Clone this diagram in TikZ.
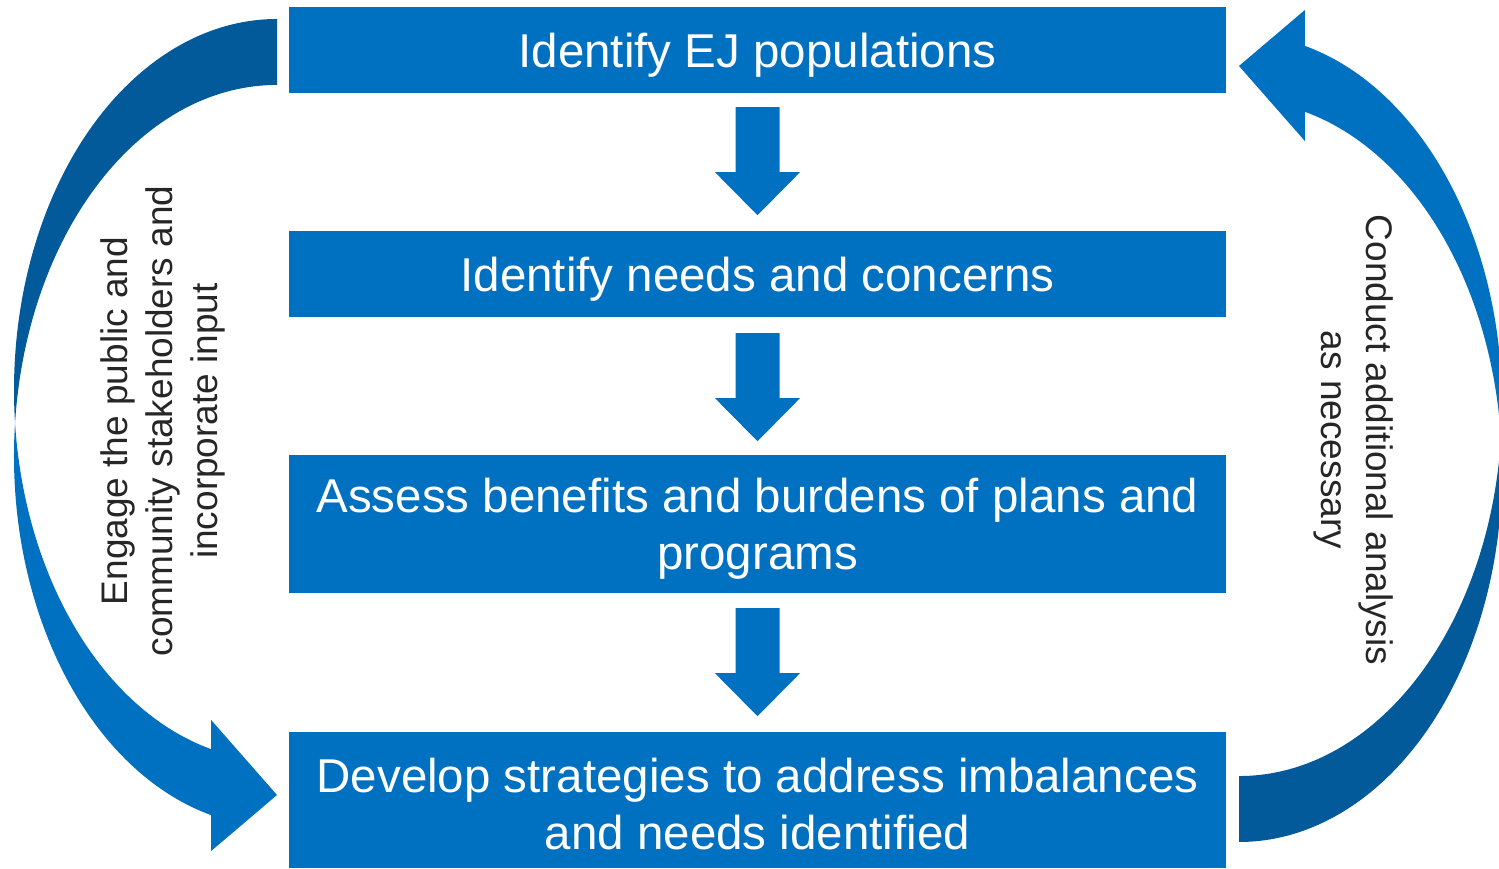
\documentclass[tikz,border=0pt]{standalone}
\usepackage{fontspec}
\setmainfont{Liberation Sans}
\usetikzlibrary{calc}
\definecolor{boxblue}{RGB}{0,112,192}
\definecolor{darkblue}{RGB}{3,90,154}
\definecolor{textgray}{RGB}{38,38,38}
\begin{document}
\begin{tikzpicture}[x=1pt,y=1pt,
  box/.style={fill=boxblue, minimum width=937pt, inner sep=0pt},
  boxtext/.style={text=white, inner sep=0pt, align=center, yshift=-5pt,
    font=\fontsize{47.5}{57}\selectfont},
  sidetext/.style={text=textgray, align=center, inner sep=0pt, font=\fontsize{37}{45}\selectfont},
  downarrow/.pic={\fill[boxblue] (-22,0) -- (22,0) -- (22,-65) -- (42.5,-65) -- (0,-108) -- (-42.5,-65) -- (-22,-65) -- cycle;}
]
\useasboundingbox (0,0) rectangle (1499,868);

% boxes
\node[box, minimum height=86pt, label={[boxtext]center:Identify EJ populations}] (b1) at (757.5,818) {};
\node[box, minimum height=86pt, label={[boxtext]center:Identify needs and concerns}] (b2) at (757.5,594) {};
\node[box, minimum height=138pt, label={[boxtext]center:{Assess benefits and burdens of plans and\\programs}}] (b3) at (757.5,344) {};
\node[box, minimum height=136pt, label={[boxtext, yshift=1pt]center:{Develop strategies to address imbalances\\and needs identified}}] (b4) at (757.5,68) {};

% down arrows
\pic at ($(b1.south)+(0,-14)$) {downarrow};
\pic at ($(b2.south)+(0,-16)$) {downarrow};
\pic at ($(b3.south)+(0,-15)$) {downarrow};

% left curved arrow
\coordinate (ltail) at (277,849);
\coordinate (lcross) at (15.04,445.02);
\fill[darkblue] (ltail) arc[start angle=90, end angle=185.1, x radius=263, y radius=371]
  arc[start angle=174.9, end angle=90, x radius=263, y radius=371] -- cycle;
\fill[boxblue] (lcross) arc[start angle=174.9, end angle=255.5, x radius=263, y radius=371]
  -- (211.15,17) -- (277,73) -- (211.15,148) -- (211.15,118.8)
  arc[start angle=255.5, end angle=185.1, x radius=263, y radius=371] -- cycle;

% right curved arrow (the left one turned half round)
\begin{scope}[rotate around={180:(758,437.5)}]
\coordinate (rtail) at (277,849);
\coordinate (rcross) at (15.04,445.02);
\fill[darkblue] (rtail) arc[start angle=90, end angle=185.1, x radius=263, y radius=371]
  arc[start angle=174.9, end angle=90, x radius=263, y radius=371] -- cycle;
\fill[boxblue] (rcross) arc[start angle=174.9, end angle=255.5, x radius=263, y radius=371]
  -- (211.15,17) -- (277,73) -- (211.15,148) -- (211.15,118.8)
  arc[start angle=255.5, end angle=185.1, x radius=263, y radius=371] -- cycle;
\end{scope}

% side texts
\node[sidetext, rotate=90] (lt) at (163,447) {Engage the public and\\community stakeholders and\\incorporate input};
\node[sidetext, rotate=-90] (rt) at (1354,428) {Conduct additional analysis\\as necessary};
\end{tikzpicture}
\end{document}
